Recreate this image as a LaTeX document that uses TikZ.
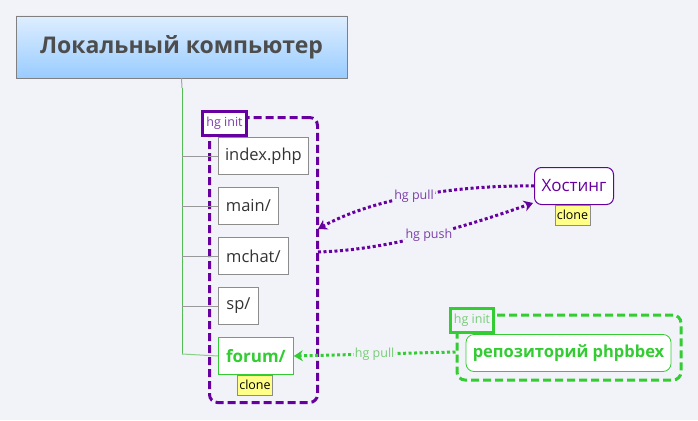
\documentclass[tikz,border=0pt]{standalone}
\usepackage{fontspec}
\setmainfont{Open Sans}
\usetikzlibrary{arrows.meta,shapes.misc}
\definecolor{bgc}{HTML}{F2F3F8}
\definecolor{purp}{HTML}{6600A0}
\definecolor{purpt}{HTML}{7A3FA8}
\definecolor{grn}{HTML}{33CC33}
\definecolor{grnl}{HTML}{77CC77}
\definecolor{treeg}{HTML}{55BB55}
\definecolor{txt}{HTML}{333333}
\definecolor{maintxt}{HTML}{4D4D4D}
\definecolor{tag}{HTML}{FFFF88}
\tikzset{
  child/.style={draw=black!45,fill=white,line width=0.8pt,minimum height=37pt,inner xsep=0pt,
    font=\fontsize{16.5}{16.5}\selectfont,text=txt,anchor=west},
  clonetag/.style={draw=black!45,fill=tag,line width=0.8pt,minimum width=35pt,minimum height=20pt,
    inner sep=0pt,font=\fontsize{12.5}{12.5}\selectfont,text=black},
  initlbl/.style={line width=3pt,minimum height=24pt,inner sep=0pt,font=\fontsize{12.5}{12.5}\selectfont},
  dotarrow/.style={line width=3pt,dash pattern=on 3pt off 2.5pt,-{Stealth[length=9pt,width=11pt]}},
  edgelbl/.style={fill=bgc,inner sep=1pt,font=\fontsize{12.5}{12.5}\selectfont},
  branch/.style={draw=black!40,line width=1pt},
}
\begin{document}
\begin{tikzpicture}[x=1pt,y=-1pt]
\fill[bgc] (0,0) rectangle (698,420);
\useasboundingbox (0,0) rectangle (698,420);
% main
\node[draw=black!50,line width=0.8pt,top color={rgb,255:red,222;green,238;blue,255},bottom color={rgb,255:red,153;green,204;blue,255},
  minimum width=331pt,minimum height=62pt,inner sep=0pt,
  font=\fontsize{23}{23}\selectfont\bfseries,text=maintxt] (main) at (181.5,47) {Локальный компьютер};
% tree
\coordinate (tk) at (182,88);
\coordinate (tend) at (182,354);
\draw[black!35,line width=1pt] (main.south) -- (tk);
\draw[treeg,line width=1pt] (tk) -- (tend);
\coordinate (b1) at (182,156);
\coordinate (b2) at (182,206);
\coordinate (b3) at (182,256);
\coordinate (b4) at (182,306);
% purple box
\node[draw=purp,line width=3pt,dash pattern=on 8pt off 4pt,rounded corners=8pt,
  minimum width=108pt,minimum height=285pt,inner sep=0pt] (pbox) at (263.5,260) {};
% children
\node[child,minimum width=90pt] (idx) at (218,156) {index.php};
\node[child,minimum width=60pt] (mn) at (218,206) {main/};
\node[child,minimum width=70pt] (mc) at (218,256) {mchat/};
\node[child,minimum width=40pt] (sp) at (218,306) {sp/};
\node[child,draw=grn,text=grn,font=\fontsize{17}{17}\selectfont\bfseries,minimum width=75pt] (fr) at (218,356) {forum/};
\draw[branch] (b1) -- (idx.west);
\draw[branch] (b2) -- (mn.west);
\draw[branch] (b3) -- (mc.west);
\draw[branch] (b4) -- (sp.west);
\draw[treeg!70,line width=1pt] (tend) -- (fr.west);
\node[clonetag] (fclone) at (255,385) {clone};
\node[initlbl,draw=purp,fill=white,text=purpt,minimum width=44pt] (pinit) at (224.5,123) {hg init};
% hosting
\node[draw=purp,fill=white,rounded corners=7pt,line width=1pt,minimum width=79pt,minimum height=37pt,
  inner sep=0pt,font=\fontsize{17}{17}\selectfont,text=purp] (host) at (574,186) {Хостинг};
\node[clonetag] (hclone) at (572.5,215) {clone};
\coordinate (pin) at (318,229);
\coordinate (pout) at (318,252);
\coordinate (hin) at (533,203);
\draw[dotarrow,purp] (host.west) .. controls (450,185) and (370,200) .. node[pos=0.5,edgelbl,text=purpt]{hg pull} (pin);
\draw[dotarrow,purp] (pout) .. controls (390,250) and (470,225) .. node[pos=0.5,edgelbl,text=purpt]{hg push} (hin);
% green group
\node[draw=grn,line width=3pt,dash pattern=on 8pt off 4pt,rounded corners=8pt,
  minimum width=224pt,minimum height=65pt,inner sep=0pt] (gbox) at (569,347.5) {};
\node[initlbl,draw=grn,fill=bgc,text=grnl,minimum width=43pt] (ginit) at (472,320) {hg init};
\node[draw=grn,fill=white,rounded corners=8pt,line width=0.8pt,minimum width=205pt,minimum height=37pt,
  inner sep=0pt,font=\fontsize{16.5}{16.5}\selectfont\bfseries,text=grn] (repo) at (568.5,353) {репозиторий phpbbex};
\draw[dotarrow,grn] (gbox.west |- 0,352) -- node[pos=0.5,edgelbl,text=grnl]{hg pull} (fr.east);
\end{tikzpicture}
\end{document}
